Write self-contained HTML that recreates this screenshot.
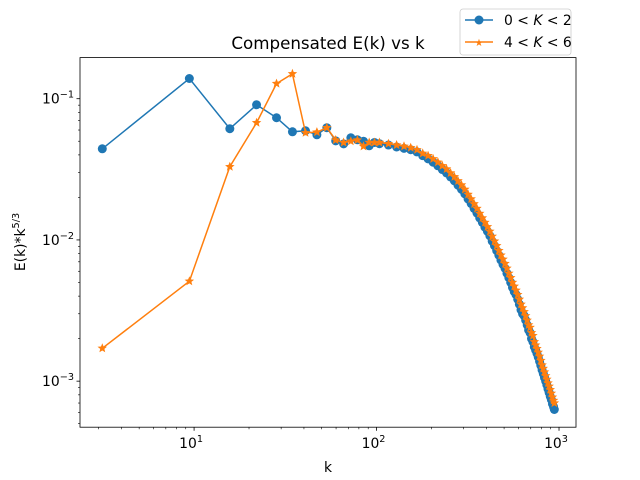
<!DOCTYPE html>
<html><head><meta charset="utf-8"><style>
body{margin:0;background:#fff;}
svg{display:block;font-family:"DejaVu Sans","Liberation Sans",sans-serif;}
</style></head><body>
<svg id="chart" width="640" height="480" viewBox="0 0 640 480" xmlns="http://www.w3.org/2000/svg">
<rect x="0" y="0" width="640" height="480" fill="#fff"/>
<text x="328" y="49" font-size="16.7" text-anchor="middle">Compensated E(k) vs k</text>
<text x="328" y="472" font-size="13.9" text-anchor="middle">k</text>
<text transform="translate(25,242) rotate(-90)" font-size="13.9" text-anchor="middle">E(k)*k<tspan font-size="9.7" dy="-6">5/3</tspan></text>
<g id="series"></g>
<rect x="80" y="57.6" width="496" height="369.6" fill="none" stroke="#000" stroke-width="0.8"/>
<g id="axes"></g>
<g>
<rect x="460" y="9" width="111" height="46" rx="3" fill="#fff" stroke="#ccc" stroke-width="0.8"/>
<line x1="465" y1="20" x2="493" y2="20" stroke="#1f77b4" stroke-width="1.5"/>
<circle cx="479" cy="20" r="4.5" fill="#1f77b4"/>
<text x="504" y="25" font-size="13.9">0 &lt; <tspan font-style="italic">K</tspan> &lt; 2</text>
<line x1="465" y1="42" x2="493" y2="42" stroke="#ff7f0e" stroke-width="1.5"/>
<text x="479" y="46" font-size="10" fill="#ff7f0e" text-anchor="middle">★</text>
<text x="504" y="47" font-size="13.9">4 &lt; <tspan font-style="italic">K</tspan> &lt; 6</text>
</g>
</svg>
<script>
const kValues=[3.14,9.42,15.7,22.0,28.3,34.6,40.8,47.1,53.4,59.7,66.0,72.3,78.5,84.8,91.1,97.4,103.7,116.2,128.8,141.4,153.9,166.5,179.1,191.6,204.2,216.8,229.3,241.9,254.5,267.0,279.6,292.2,304.7,317.3,329.9,342.4,355.0,367.6,380.1,392.7,405.3,417.8,430.4,443.0,455.5,468.1,480.7,493.2,505.8,518.4,530.9,543.5,556.1,568.6,581.2,593.8,606.3,618.9,631.5,644.0,656.6,669.2,681.7,694.3,706.9,719.4,732.0,744.6,757.1,769.7,782.3,794.8,807.4,820.0,832.5,845.1,857.7,870.2,882.8,895.4,907.9,920.5,933.1,942.5];
const blueValues=[0.0442,0.139,0.0613,0.0906,0.0733,0.0583,0.0593,0.0555,0.0623,0.0503,0.0479,0.0529,0.0512,0.050,0.0464,0.049,0.048,0.047,0.0455,0.0445,0.0435,0.042,0.0395,0.0375,0.0355,0.0335,0.0315,0.0298,0.0279,0.0262,0.0244,0.0228,0.0212,0.0195,0.0181,0.0167,0.0155,0.0143,0.0133,0.0123,0.0115,0.0107,0.0098,0.0091,0.0084,0.0078,0.0072,0.0067,0.0063,0.0058,0.0054,0.0050,0.0046,0.0043,0.0041,0.0038,0.0035,0.0032,0.0030,0.0029,0.0027,0.0025,0.0023,0.0022,0.0020,0.0019,0.00175,0.00166,0.00157,0.00148,0.00138,0.00129,0.0012,0.00113,0.00106,0.001,0.00094,0.00088,0.00083,0.00078,0.00074,0.00069,0.00066,0.00063];
const orangeValues=[0.00171,0.0051,0.033,0.0676,0.128,0.150,0.0574,0.058,0.0623,0.051,0.049,0.050,0.051,0.046,0.049,0.049,0.049,0.048,0.047,0.046,0.045,0.0435,0.041,0.0395,0.0375,0.0355,0.0335,0.0318,0.0298,0.028,0.0262,0.0245,0.0228,0.021,0.0195,0.018,0.0167,0.0154,0.0143,0.0133,0.0124,0.0115,0.0106,0.0098,0.0091,0.0084,0.0078,0.0073,0.0068,0.0063,0.0058,0.0054,0.0050,0.0047,0.0044,0.0041,0.0038,0.0035,0.0033,0.0031,0.0029,0.0027,0.0025,0.0024,0.0022,0.0021,0.0019,0.0018,0.0017,0.0016,0.0015,0.0014,0.0013,0.00123,0.00116,0.00109,0.00103,0.00097,0.00092,0.00087,0.00082,0.00077,0.00073,0.00070];
const xTickLabels=["10","10","10"];const xTickExp=["1","2","3"];
const yTickLabels=["10","10","10"];const yTickExp=["−3","−2","−1"];
const X0=80,X1=576,Y0=57.6,Y1=427.2;
const lxMin=Math.log10(2.37),lxMax=Math.log10(1239),lyMin=-3.326,lyMax=-0.709;
function xs(v){return X0+(Math.log10(v)-lxMin)/(lxMax-lxMin)*(X1-X0);}
function ys(v){return Y1-(Math.log10(v)-lyMin)/(lyMax-lyMin)*(Y1-Y0);}
const NS="http://www.w3.org/2000/svg";
function mk(t,a,p){const e=document.createElementNS(NS,t);for(const k in a)e.setAttribute(k,a[k]);p.appendChild(e);return e;}
const axes=document.getElementById('axes');
for(let d=0;d<=3;d++){for(let m=1;m<=9;m++){const v=m*Math.pow(10,d);if(v<2.37||v>1239)continue;const x=xs(v);
const t=mk('line',{x1:x,x2:x,y1:Y1,y2:Y1+(m===1?3.5:2),stroke:'#000','stroke-width':m===1?0.8:0.6},axes);

}}
xTickExp.forEach((e,i)=>{const x=xs(Math.pow(10,+e));const t=mk('text',{x:x-3,y:Y1+21,'font-size':13.9,'text-anchor':'middle'},axes);


t.innerHTML=xTickLabels[i]+'<tspan font-size="9.7" dy="-6">'+e+'</tspan>';});
for(let d=-4;d<=0;d++){for(let m=1;m<=9;m++){const v=m*Math.pow(10,d);const lv=Math.log10(v);if(lv<lyMin||lv>lyMax)continue;const y=ys(v);
const t=mk('line',{x1:X0,x2:X0-(m===1?3.5:2),y1:y,y2:y,stroke:'#000','stroke-width':m===1?0.8:0.6},axes);

}}
yTickExp.forEach((e,i)=>{const y=ys(Math.pow(10,[-3,-2,-1][i]));const t=mk('text',{x:X0-6,y:y+5,'font-size':13.9,'text-anchor':'end'},axes);


t.innerHTML=yTickLabels[i]+'<tspan font-size="9.7" dy="-6">'+e+'</tspan>';});
const ser=document.getElementById('series');
function drawSeries(vals,color,name,star){
const g=mk('g',{},ser);


const pts=kValues.map((k,i)=>xs(k).toFixed(1)+','+ys(vals[i]).toFixed(1)).join(' ');
mk('polyline',{points:pts,fill:'none',stroke:color,'stroke-width':1.5},g);
kValues.forEach((k,i)=>{let m;
if(star){const cx=xs(k),cy=ys(vals[i]);let p=[];for(let j=0;j<10;j++){const r=j%2?2.2:5,a=-Math.PI/2+j*Math.PI/5;p.push((cx+r*Math.cos(a)).toFixed(1)+','+(cy+r*Math.sin(a)).toFixed(1));}
m=mk('polygon',{points:p.join(' '),fill:color},g);}
else m=mk('circle',{cx:xs(k),cy:ys(vals[i]),r:4.5,fill:color},g);

});}
drawSeries(blueValues,'#1f77b4','series-0-k-2',false);
drawSeries(orangeValues,'#ff7f0e','series-4-k-6',true);
</script>
</body></html>
